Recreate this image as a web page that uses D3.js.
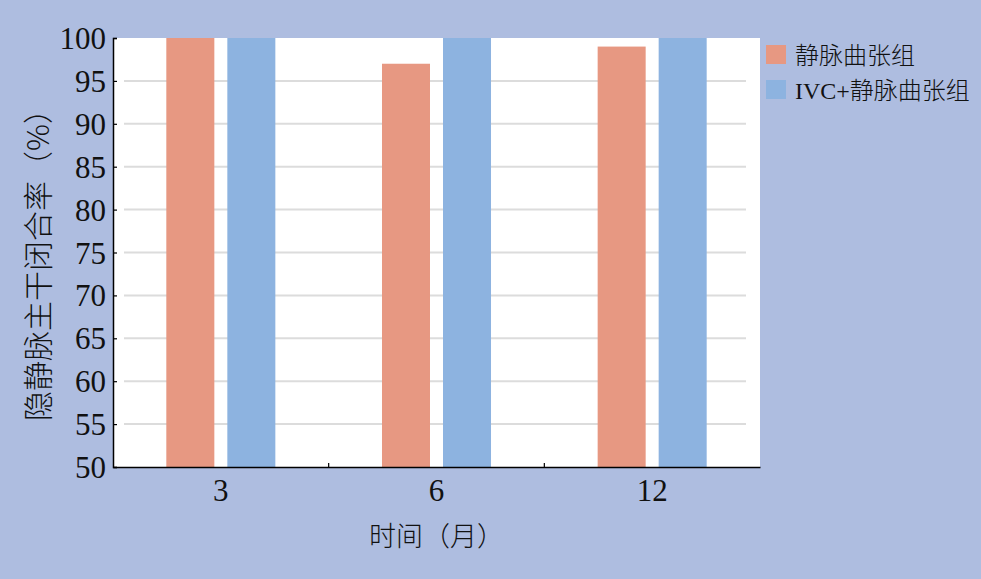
<!DOCTYPE html>
<html><head><meta charset="utf-8">
<script src="https://cdn.jsdelivr.net/npm/d3@7"></script>
<style>html,body{margin:0;padding:0;background:#aebde0;}svg{display:block;}</style>
</head><body>
<script>
const categories = ["3", "6", "12"];
const seriesNames = ["静脉曲张组", "IVC+静脉曲张组"];
const varicoseValues = [100, 97, 99];
const ivcValues = [100, 100, 100];
const yTicks = [50, 55, 60, 65, 70, 75, 80, 85, 90, 95, 100];
const colors = ["#e79882", "#8db3e0"];

const W = 981, H = 579;
const m = {left: 113, right: 221, top: 38, bottom: 112};
const svg = d3.select("body").append("svg").attr("width", W).attr("height", H);
svg.append("rect").attr("width", W).attr("height", H).attr("fill", "#aebde0");

const x = d3.scaleBand().domain(categories).range([m.left, W - m.right]);
const y = d3.scaleLinear().domain([50, 100]).range([H - m.bottom, m.top]);
const xs = d3.scaleBand().domain([0, 1]).range([0, x.bandwidth()]).paddingInner(0.213).paddingOuter(0.874);

svg.append("rect").attr("x", m.left).attr("y", m.top).attr("width", W - m.left - m.right)
  .attr("height", H - m.top - m.bottom).attr("fill", "#ffffff");

// gridlines
svg.append("g").selectAll("line").data(yTicks.filter(d => d > 50 && d < 100)).join("line")
  .attr("x1", m.left + 11).attr("x2", W - m.right - 14)
  .attr("y1", d => y(d)).attr("y2", d => y(d))
  .attr("stroke", "#dcdcdc").attr("stroke-width", 2);

const series = [varicoseValues, ivcValues];
series.forEach((vals, si) => {
  svg.append("g").selectAll("rect").data(categories).join("rect")
    .attr("x", (c) => x(c) + xs(si))
    .attr("width", xs.bandwidth())
    .attr("y", (c, i) => y(vals[i]))
    .attr("height", (c, i) => y(50) - y(vals[i]))
    .attr("fill", colors[si]);
});

const serif = "'Liberation Serif', 'Times New Roman', serif";
// y axis
const ya = svg.append("g").attr("transform", `translate(${m.left},0)`)
  .call(d3.axisLeft(y).tickValues(yTicks).tickSize(-4).tickPadding(7));
ya.select(".domain").attr("stroke", "#000").attr("stroke-width", 1.5);
ya.selectAll(".tick line").attr("stroke", "#000").attr("stroke-width", 1.2);
ya.selectAll(".tick text").attr("font-family", serif).attr("font-size", 31).attr("fill", "#111").attr("dy", "0.34em");

// x axis
const xa = svg.append("g").attr("transform", `translate(0,${H - m.bottom})`)
  .call(d3.axisBottom(x).tickSize(0).tickPadding(12));
xa.select(".domain").attr("stroke", "#000").attr("stroke-width", 1.5);
xa.selectAll(".tick text").attr("font-family", serif).attr("font-size", 31).attr("fill", "#111").attr("dy", "0.72em");
svg.append("g").selectAll("line").data(categories.slice(1)).join("line")
  .attr("x1", c => x(c)).attr("x2", c => x(c))
  .attr("y1", H - m.bottom).attr("y2", H - m.bottom - 4)
  .attr("stroke", "#000").attr("stroke-width", 1.2);

const cjk = "'Noto Sans CJK SC', sans-serif";
svg.append("text").attr("x", (m.left + W - m.right) / 2).attr("y", 546)
  .attr("text-anchor", "middle").attr("font-family", cjk).attr("font-size", 27).attr("font-weight", 300)
  .attr("fill", "#111").text("时间（月）");

svg.append("text").attr("transform", `translate(49,${(m.top + H - m.bottom) / 2 + 5}) rotate(-90)`)
  .attr("text-anchor", "middle").attr("font-family", cjk).attr("font-size", 30).attr("font-weight", 300)
  .attr("fill", "#111").text("隐静脉主干闭合率（%）");

// legend
const lg = svg.append("g").attr("transform", "translate(766,45)");
seriesNames.forEach((n, i) => {
  lg.append("rect").attr("x", 0).attr("y", i * 35).attr("width", 20).attr("height", 19).attr("fill", colors[i]);
  lg.append("text").attr("x", 29).attr("y", i * 35 + 19).attr("font-family", serif + ", " + cjk)
    .attr("font-size", 24).attr("font-weight", 300).attr("fill", "#111").text(n);
});
</script>
</body></html>
